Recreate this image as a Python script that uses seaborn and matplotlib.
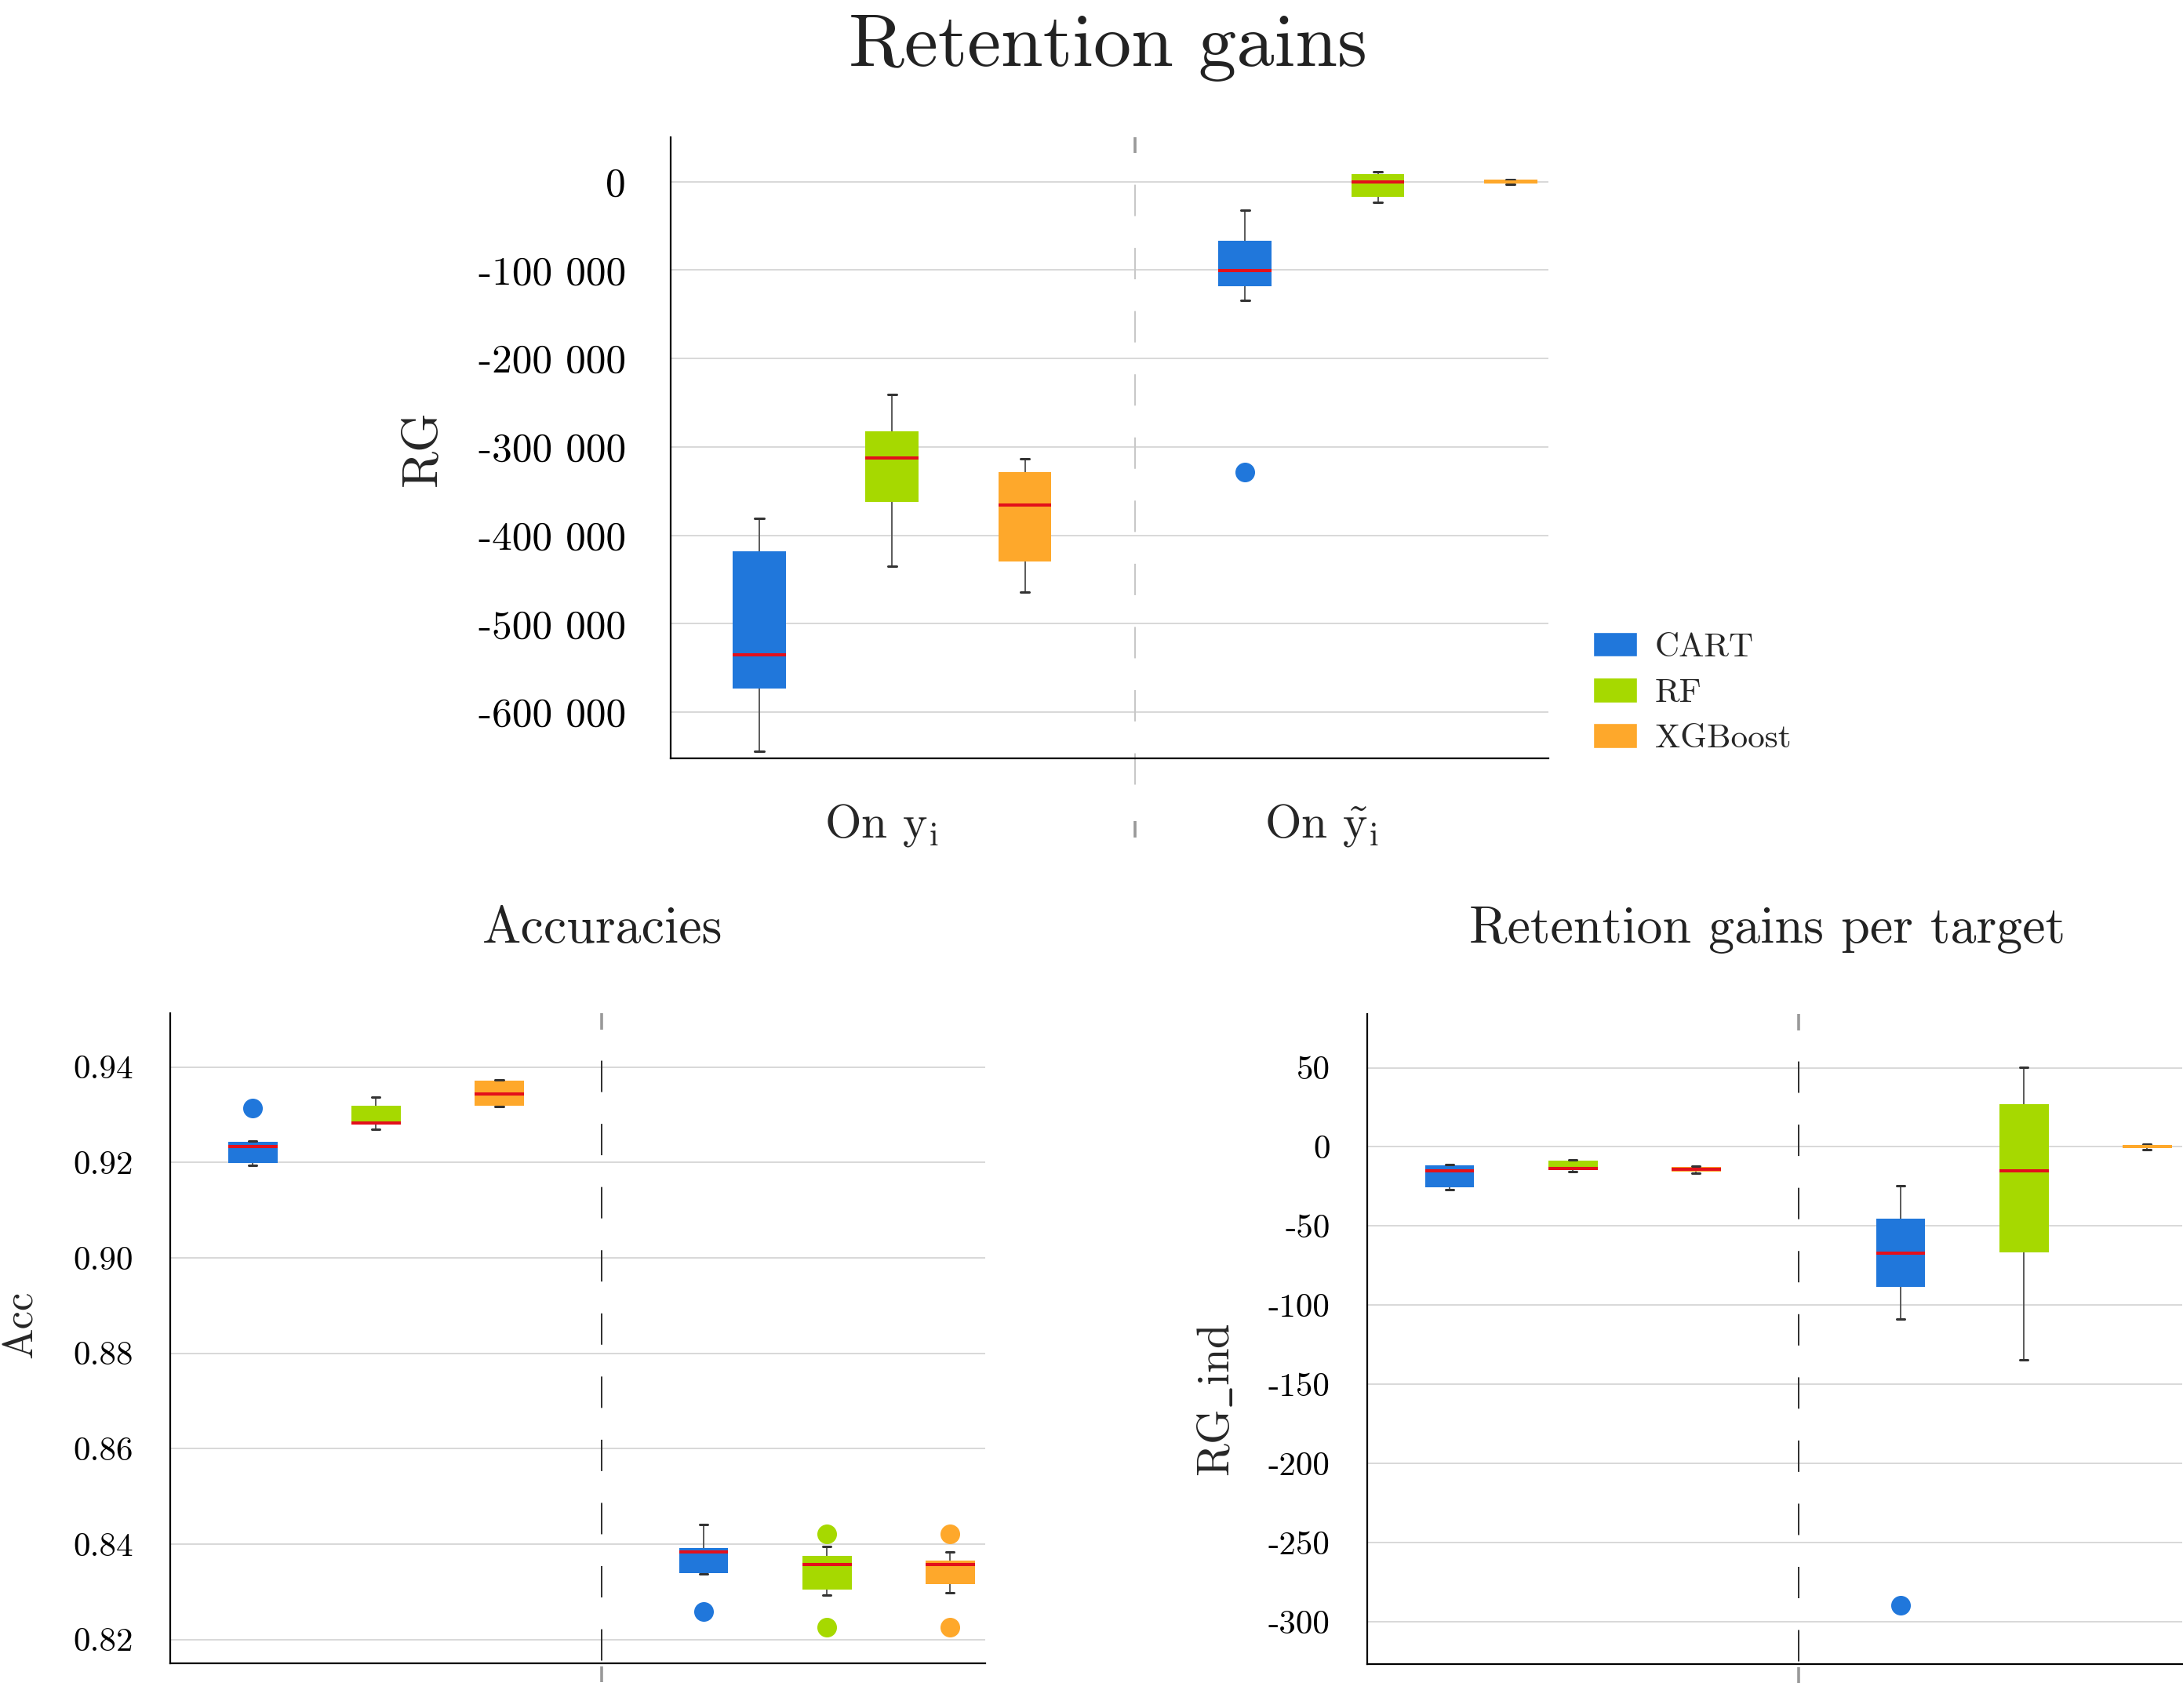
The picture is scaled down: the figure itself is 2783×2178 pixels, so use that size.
import numpy as np
import pandas as pd
import matplotlib
matplotlib.use("Agg")
import matplotlib.pyplot as plt
import matplotlib.transforms as mtransforms
from matplotlib.patches import Patch
from matplotlib.ticker import FuncFormatter, MultipleLocator
import seaborn as sns

models = ["CART", "RF", "XGBoost"]
targets = ["y", "y_tilde"]
target_labels = [r"On $\mathrm{y}_{\mathrm{i}}$", r"On $\tilde{\mathrm{y}}_{\mathrm{i}}$"]
colors = ["#2077DB", "#A6D900", "#FEA82B"]

# box statistics, order: CART, RF, XGBoost on y_i then CART, RF, XGBoost on y~_i
rg_low = [-644500, -435200, -464500, -133800, -23600, -3200]
rg_q1 = [-573500, -361800, -429600, -118600, -17100, -2100]
rg_med = [-535500, -312500, -366100, -100800, -300, -500]
rg_q3 = [-417800, -282600, -328100, -67100, 8900, 2100]
rg_high = [-380500, -240900, -313200, -32500, 11000, 2700]
rg_out_lo = [np.nan, np.nan, np.nan, -328100, np.nan, np.nan]
rg_out_hi = [np.nan, np.nan, np.nan, np.nan, np.nan, np.nan]

acc_low = [0.91945, 0.92702, 0.93173, 0.83381, 0.82931, 0.82976]
acc_q1 = [0.91995, 0.92790, 0.93184, 0.83397, 0.83052, 0.83162]
acc_med = [0.92335, 0.92828, 0.93436, 0.83836, 0.83573, 0.83573]
acc_q3 = [0.92438, 0.93184, 0.93721, 0.83912, 0.83748, 0.83649]
acc_high = [0.92455, 0.93370, 0.93737, 0.84411, 0.83951, 0.83841]
acc_out_lo = [np.nan, np.nan, np.nan, 0.82581, 0.82252, 0.82252]
acc_out_hi = [0.93145, np.nan, np.nan, np.nan, 0.84214, 0.84214]

ind_low = [-27.0, -15.4, -16.7, -108.8, -134.3, -1.9]
ind_q1 = [-25.3, -14.4, -15.7, -88.4, -66.6, -0.9]
ind_med = [-14.9, -13.5, -14.1, -67.3, -15.2, 0.1]
ind_q3 = [-11.8, -8.5, -12.5, -45.2, 27.0, 1.4]
ind_high = [-11.1, -8.0, -12.0, -24.7, 50.1, 1.8]
ind_out_lo = [np.nan, np.nan, np.nan, -289.4, np.nan, np.nan]
ind_out_hi = [np.nan, np.nan, np.nan, np.nan, np.nan, np.nan]


def make_frame(low, q1, med, q3, high, out_lo, out_hi):
    # nine points per box: quartiles land on exact ranks, whiskers at the 12.5/87.5 ranks
    rows = []
    for i in range(6):
        lo_end = low[i] if np.isnan(out_lo[i]) else out_lo[i]
        hi_end = high[i] if np.isnan(out_hi[i]) else out_hi[i]
        sample = [lo_end, low[i], q1[i], med[i], med[i], med[i], q3[i], high[i], hi_end]
        for v in sample:
            rows.append((targets[i // 3], models[i % 3], v))
    return pd.DataFrame(rows, columns=["target", "model", "value"])


def draw_boxes(ax, df, ylim):
    sns.boxplot(data=df, x="target", y="value", hue="model", order=targets,
                hue_order=models, palette=colors, saturation=1, width=0.82, gap=0.6,
                whis=(12.5, 87.5), linecolor="#555555", linewidth=1.4, fliersize=17,
                legend=False, ax=ax,
                medianprops=dict(color="#E3101B", linewidth=2.9))
    span = ylim[1] - ylim[0]
    for cont, col in zip(ax.containers, colors):
        for b, m in zip(cont.boxes, cont.medians):
            b.set_linewidth(0)
            ys = b.get_path().vertices[:, 1]
            # very flat boxes show no red median in the original
            if (ys.max() - ys.min()) / span < 0.0065:
                m.set_color(col)
        for w in cont.whiskers:
            w.set_color("#5a5a5a")
            w.set_linewidth(1.4)
        for c in cont.caps:
            xc = np.mean(c.get_xdata())
            c.set_xdata([xc - 0.009, xc + 0.009])
            c.set_color("#333333")
            c.set_linewidth(2.2)
        for f in cont.fliers:
            f.set_marker("o")
            f.set_markerfacecolor(col)
            f.set_markeredgecolor(col)
            f.set_markersize(17)


def style_axes(ax, ylim, step, fmt, labelsize, pad):
    ax.set_xlim(-0.456, 1.351)
    ax.set_ylim(*ylim)
    ax.set_xticks([])
    ax.set_xlabel("")
    ax.set_ylabel("")
    ax.yaxis.set_major_locator(MultipleLocator(step))
    ax.yaxis.set_major_formatter(FuncFormatter(fmt))
    ax.tick_params(axis="y", length=0, pad=pad, labelsize=labelsize, labelcolor="black")
    ax.grid(axis="y", color="#d9d9d9", linewidth=1.44)
    ax.grid(axis="x", visible=False)
    ax.set_axisbelow(True)
    for side in ["top", "right"]:
        ax.spines[side].set_visible(False)
    for side in ["left", "bottom"]:
        ax.spines[side].set_color("black")
        ax.spines[side].set_linewidth(1.6)


def divider(ax, y_end, color, tick_lo, tick_hi, top_tick):
    tr = mtransforms.blended_transform_factory(ax.transData, ax.transAxes)
    ax.plot([0.5, 0.5], [1.0, y_end], transform=tr, color=color, linewidth=1.44,
            linestyle=(14.4, (28.8, 29.2)), clip_on=False, zorder=1)
    ax.plot([0.5, 0.5], [1.0, 1.0 - top_tick], transform=tr, color="#999999",
            linewidth=2.6, clip_on=False, solid_capstyle="butt")
    ax.plot([0.5, 0.5], [tick_hi, tick_lo], transform=tr, color="#999999",
            linewidth=2.6, clip_on=False, solid_capstyle="butt")


sns.set_style("white")
plt.rcParams["font.family"] = ["cmr10", "DejaVu Serif"]
plt.rcParams["mathtext.fontset"] = "cm"
plt.rcParams["axes.unicode_minus"] = False
plt.rcParams["axes.formatter.use_mathtext"] = True
plt.rcParams["lines.scale_dashes"] = False

fig = plt.figure(figsize=(27.83, 21.78), dpi=100)

# top: retention gains
rg_ylim = (-652400, 50300)
ax_rg = fig.add_axes([0.3072, 0.5560, 0.4021, 0.3636])
draw_boxes(ax_rg, make_frame(rg_low, rg_q1, rg_med, rg_q3, rg_high, rg_out_lo, rg_out_hi),
           rg_ylim)
style_axes(ax_rg, rg_ylim, 100000,
           lambda v, p: f"{int(round(v)):,}".replace(",", " "), 37, 41)
divider(ax_rg, -0.049, "#c8c8c8", -0.1275, -0.101, 0.025)
tr = mtransforms.blended_transform_factory(ax_rg.transData, ax_rg.transAxes)
for xpos, lab in zip([-0.022, 0.884], target_labels):
    ax_rg.text(xpos, -0.1263, lab, transform=tr, ha="center", va="baseline", fontsize=43)
fig.text(0.5077, 0.9614, "Retention gains", ha="center", va="baseline", fontsize=69.5,
         color="#222222")
fig.text(0.1937, 0.7378, "RG", rotation=90, ha="center", va="center", fontsize=46)
fig.legend(handles=[Patch(facecolor=c, label=m) for c, m in zip(colors, models)],
           loc="upper left", bbox_to_anchor=(0.7298, 0.630), frameon=False, fontsize=31,
           handlelength=1.3, handleheight=0.75, handletextpad=0.53, borderpad=0,
           borderaxespad=0, labelspacing=0.45)

# bottom left: accuracies
acc_ylim = (0.81502, 0.95129)
ax_acc = fig.add_axes([0.0780, 0.02617, 0.3733, 0.3806])
draw_boxes(ax_acc, make_frame(acc_low, acc_q1, acc_med, acc_q3, acc_high, acc_out_lo,
                              acc_out_hi), acc_ylim)
style_axes(ax_acc, acc_ylim, 0.02, lambda v, p: f"{v:.2f}", 31, 34)
divider(ax_acc, 0.0, "#333333", -0.029, -0.005, 0.025)
fig.text(0.276, 0.4481, "Accuracies", ha="center", va="baseline", fontsize=47.5,
         color="#222222")
fig.text(0.0097, 0.2245, "Acc", rotation=90, ha="center", va="center", fontsize=38)

# bottom right: retention gains per target
ind_ylim = (-326.7, 83.9)
ax_ind = fig.add_axes([0.6263, 0.0257, 0.3733, 0.3806])
draw_boxes(ax_ind, make_frame(ind_low, ind_q1, ind_med, ind_q3, ind_high, ind_out_lo,
                              ind_out_hi), ind_ylim)
style_axes(ax_ind, ind_ylim, 50, lambda v, p: f"{int(round(v))}", 31, 34)
divider(ax_ind, 0.0, "#333333", -0.029, -0.005, 0.025)
fig.text(0.8096, 0.4481, "Retention gains per target", ha="center", va="baseline",
         fontsize=47.5, color="#222222")
fig.text(0.5577, 0.1804, r"RG$\_$ind", rotation=90, ha="center", va="center", fontsize=41)

fig.savefig("out.png", dpi=100)
